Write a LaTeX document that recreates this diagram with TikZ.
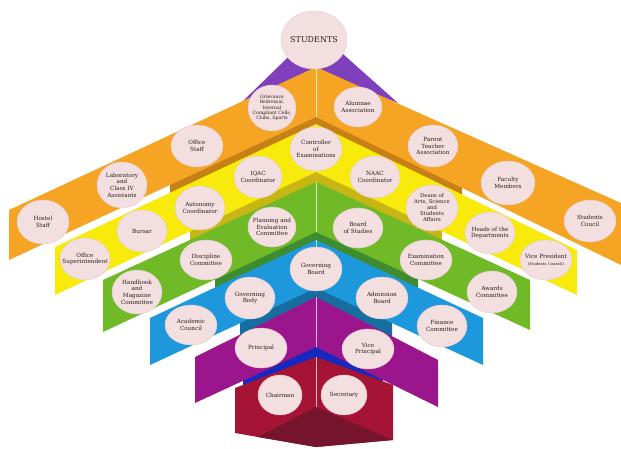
\documentclass[tikz,border=0pt]{standalone}
\usepackage{fontspec}
\setmainfont{DejaVu Serif}
\usepackage{tikz}
\usetikzlibrary{shapes.geometric}

\definecolor{bandviolet}{RGB}{128,64,190}
\definecolor{bandorange}{RGB}{245,165,35}
\definecolor{shadeorange}{RGB}{198,128,22}
\definecolor{bandyellow}{RGB}{248,234,10}
\definecolor{shadeyellow}{RGB}{200,182,20}
\definecolor{bandgreen}{RGB}{112,186,40}
\definecolor{shadegreen}{RGB}{62,140,48}
\definecolor{bandblue}{RGB}{30,152,220}
\definecolor{shadeblue}{RGB}{22,110,160}
\definecolor{bandmagenta}{RGB}{155,22,140}
\definecolor{shaderoyal}{RGB}{22,40,190}
\definecolor{bandmaroon}{RGB}{165,20,52}
\definecolor{shademaroon}{RGB}{118,20,46}
\definecolor{unitfill}{RGB}{243,223,223}
\definecolor{unitline}{RGB}{228,204,206}
\definecolor{unittext}{RGB}{40,30,30}

\begin{document}
\begin{tikzpicture}[x=1pt,y=-1pt,
	unit/.style={ellipse,draw=unitline,fill=unitfill,line width=0.4pt,minimum width=50pt,minimum height=42pt,inner sep=-8pt,align=center,text=unittext,font=\fontsize{5.7}{6.6}\selectfont},
	tiny/.style={font=\fontsize{4.6}{5.3}\selectfont},
	crease/.style={draw=white,opacity=0.7,line width=0.8pt}]
		\fill[white] (0, 0) rectangle (621, 448);
		\useasboundingbox (0, 0) rectangle (621, 448);
		\fill[bandviolet] (316, 30) -- (398, 103) -- (316, 70) -- (243, 101) -- cycle;
		\fill[shadeorange] (170, 182) -- (316, 114) -- (462, 184) -- (462, 200) -- (316, 130) -- (170, 198) -- cycle;
		\fill[bandorange] (316, 67) -- (621, 203) -- (621, 265) -- (316, 117) -- (9, 260) -- (9, 210) -- cycle;
		\fill[shadeyellow] (190, 228) -- (316, 169) -- (442, 228) -- (442, 246) -- (316, 187) -- (190, 246) -- cycle;
		\fill[bandyellow] (316, 124) -- (577, 250) -- (577, 295) -- (316, 172) -- (55, 295) -- (55, 247) -- cycle;
		\fill[shadegreen] (215, 279) -- (316, 229) -- (418, 279) -- (418, 297) -- (316, 247) -- (215, 297) -- cycle;
		\fill[bandgreen] (316, 182) -- (530, 280) -- (530, 330) -- (316, 232) -- (103, 332) -- (103, 280) -- cycle;
		\fill[shadeblue] (240, 320) -- (316, 285) -- (392, 320) -- (392, 338) -- (316, 303) -- (240, 338) -- cycle;
		\fill[bandblue] (316, 240) -- (483, 318) -- (483, 365) -- (316, 288) -- (150, 365) -- (150, 318) -- cycle;
		\fill[shaderoyal] (243, 378) -- (316, 344) -- (383, 375) -- (383, 392) -- (316, 361) -- (243, 395) -- cycle;
		\fill[bandmagenta] (316, 297) -- (438, 360) -- (438, 407) -- (316, 347) -- (195, 403) -- (195, 357) -- cycle;
		\fill[bandmaroon] (316, 357) -- (393, 385) -- (393, 440) -- (316, 447) -- (235, 433) -- (235, 388) -- cycle;
		\fill[shademaroon] (258, 437) -- (316, 407) -- (393, 440) -- (316, 447) -- cycle;
		\draw[crease] (316, 67) -- (316, 117);
		\draw[crease] (316, 182) -- (316, 232);
		\draw[crease] (316, 240) -- (316, 288);
		\draw[crease] (316, 297) -- (316, 347);
		\draw[crease] (316, 357) -- (316, 407);
		\path
		node[unit,minimum width=66pt,minimum height=58pt,font=\fontsize{8}{9.5}\selectfont] (students) at (314, 40){STUDENTS}
		node[unit,tiny,minimum width=48pt,minimum height=46pt] (grievance) at (272, 108){Grievance\\Redressal,\\Internal\\Compliant Cells,\\Clubs, Sports}
		node[unit,minimum width=48pt,minimum height=40pt] (alumnae) at (358, 107){Alumnae\\Association}
		node[unit,minimum width=52pt] (officestaff) at (197, 146){Office\\Staff}
		node[unit] (parents) at (433, 146){Parent\\Teacher\\Association}
		node[unit,minimum height=46pt] (laboratory) at (122, 185){Laboratory\\and\\Class IV\\Assistants}
		node[unit,minimum width=54pt,minimum height=44pt] (faculty) at (508, 183){Faculty\\Members}
		node[unit,minimum width=52pt,minimum height=44pt] (hostel) at (43, 222){Hostel\\Staff}
		node[unit,minimum width=52pt] (council) at (590, 221){Students\\Coucil}
		node[unit,minimum width=52pt,minimum height=44pt] (controller) at (316, 149){Controller\\of\\Examinations}
		node[unit,minimum width=48pt] (iqac) at (258, 177){IQAC\\Coordinator}
		node[unit] (naac) at (375, 177){NAAC\\Coordinator}
		node[unit,minimum height=44pt] (autonomy) at (200, 208){Autonomy\\Coordinator}
		node[unit,minimum width=52pt,minimum height=46pt,font=\fontsize{5.3}{6}\selectfont] (deans) at (432, 208){Deans of\\Arts, Science\\and\\Students\\Affairs}
		node[unit] (bursar) at (142, 231){Bursar}
		node[unit] (heads) at (490, 233){Heads of the\\Departments}
		node[unit] (superintendent) at (85, 259){Office\\Superintendent}
		node[unit,minimum width=52pt,minimum height=40pt] (vicepresident) at (546, 260){Vice President\\{\fontsize{3.8}{4.6}\selectfont(Students Council)}}
		node[unit,minimum width=48pt,minimum height=40pt] (planning) at (272, 227){Planning and\\Evaluation\\Committee}
		node[unit,minimum height=40pt] (studies) at (358, 228){Board\\of Studies}
		node[unit,minimum width=52pt,minimum height=40pt] (discipline) at (206, 260){Discipline\\Committee}
		node[unit,minimum width=52pt,minimum height=40pt] (examination) at (426, 260){Examination\\Committee}
		node[unit,minimum height=44pt] (handbook) at (137, 292){Handbook\\and\\Magazine\\Committee}
		node[unit] (awards) at (492, 292){Awards\\Committee}
		node[unit,minimum width=52pt,minimum height=44pt] (govboard) at (316, 269){Governing\\Board}
		node[unit] (govbody) at (250, 298){Governing\\Body}
		node[unit,minimum width=52pt] (admission) at (382, 298){Admission\\Board}
		node[unit,minimum width=52pt,minimum height=40pt] (academic) at (191, 325){Academic\\Council}
		node[unit] (finance) at (442, 326){Finance\\Committee}
		node[unit,minimum width=52pt,minimum height=40pt] (principal) at (261, 348){Principal}
		node[unit,minimum width=52pt,minimum height=40pt] (viceprincipal) at (368, 349){Vice\\Principal}
		node[unit,minimum width=44pt,minimum height=40pt] (chairman) at (280, 395){Chairman}
		node[unit,minimum width=46pt,minimum height=40pt] (secretary) at (344, 395){Secretary};
\end{tikzpicture}
\end{document}
